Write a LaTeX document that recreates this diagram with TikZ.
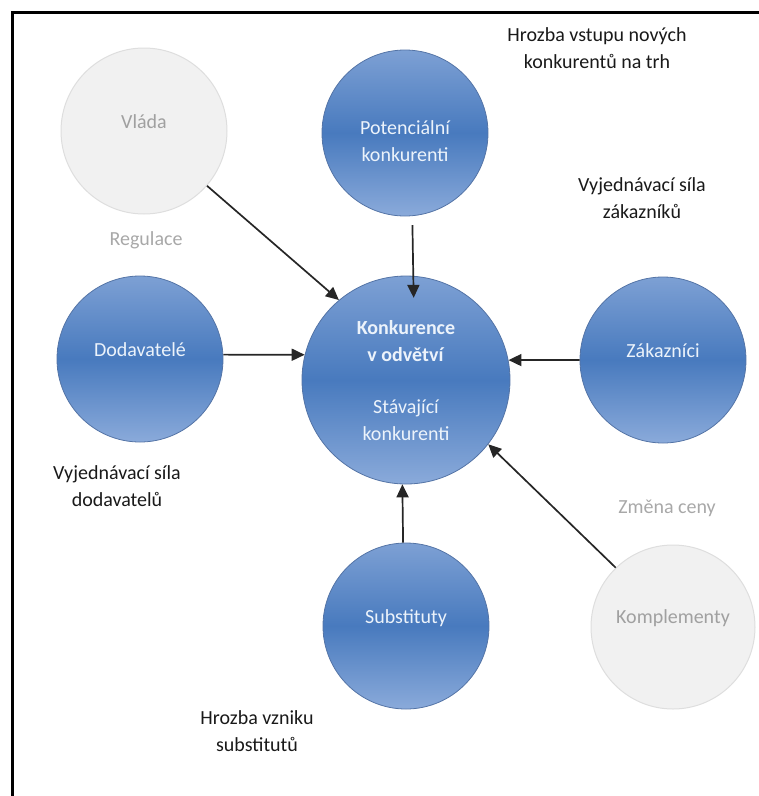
\documentclass[tikz,border=0pt]{standalone}
\usepackage{fontspec}
\setmainfont{Carlito}
\usetikzlibrary{arrows.meta}
\definecolor{btop}{RGB}{125,160,212}
\definecolor{bmid}{RGB}{72,122,190}
\definecolor{bbot}{RGB}{138,170,218}
\definecolor{bedge}{RGB}{84,116,166}
\definecolor{wtext}{RGB}{236,243,251}
\definecolor{gfill}{RGB}{241,241,241}
\definecolor{gedge}{RGB}{222,222,222}
\definecolor{gtext}{RGB}{160,160,160}
\definecolor{ltext}{RGB}{168,168,168}
\begin{document}
\begin{tikzpicture}[x=1pt,y=-1pt,
  font=\fontsize{20}{27}\selectfont,
  bluec/.style={circle,inner sep=0pt,minimum size=#1,draw=bedge,line width=0.8pt,
    top color=btop,bottom color=bbot,middle color=bmid},
  greyc/.style={circle,inner sep=0pt,minimum size=#1,draw=gedge,line width=1pt,fill=gfill},
  wl/.style={text=wtext,align=center},
  gl/.style={text=gtext,align=center},
  note/.style={text=black!90,align=center},
  lnote/.style={text=ltext,align=center},
  arr/.style={line width=1.7pt,draw=black!85,-{Triangle[length=13pt,width=12pt]}}]
\useasboundingbox (0,0) rectangle (759,796);
\draw[line width=3pt] (12,796) -- (12,12) -- (759,12);

\node[greyc=166pt,label={[gl,yshift=9pt]center:Vláda}] (vla) at (144,131) {};
\node[bluec=166pt,label={[wl,yshift=-8pt]center:Potenciální\\konkurenti}] (pot) at (405,133) {};
\node[bluec=166pt,label={[wl,yshift=9pt]center:Dodavatelé}] (dod) at (140,359) {};
\node[bluec=208pt] (kon) at (406,380) {};
\node[wl] (kontext) at (406,381) {\textbf{Konkurence}\\\textbf{v odvětví}\\[25pt]Stávající\\konkurenti};
\node[bluec=166pt,label={[wl,yshift=9pt]center:Zákazníci}] (zak) at (663,360) {};
\node[bluec=166pt,label={[wl,yshift=8pt]center:Substituty}] (sub) at (406,626) {};
\node[greyc=164pt,label={[gl,yshift=9pt]center:Komplementy}] (kom) at (673,627) {};

\node[note] (n1) at (597,48) {Hrozba vstupu nových\\konkurentů na trh};
\node[note] (n2) at (642,198) {Vyjednávací síla\\zákazníků};
\node[lnote] (n3) at (146,240) {Regulace};
\node[note] (n4) at (117,486) {Vyjednávací síla\\dodavatelů};
\node[lnote] (n5) at (667,508) {Změna ceny};
\node[note] (n6) at (257,731) {Hrozba vzniku\\substitutů};

\draw[arr] (vla.-41) -- (kon.130);
\draw[arr,shorten <=9pt,shorten >=-22pt] (pot.-85) -- (kon.86.7);
\draw[arr] (dod.3) -- (kon.166);
\draw[arr] (zak.west) -- (kon.11);
\draw[arr] (sub.92) -- (kon.-92);
\draw[arr] (kom.134) -- (kon.-38);
\end{tikzpicture}
\end{document}
